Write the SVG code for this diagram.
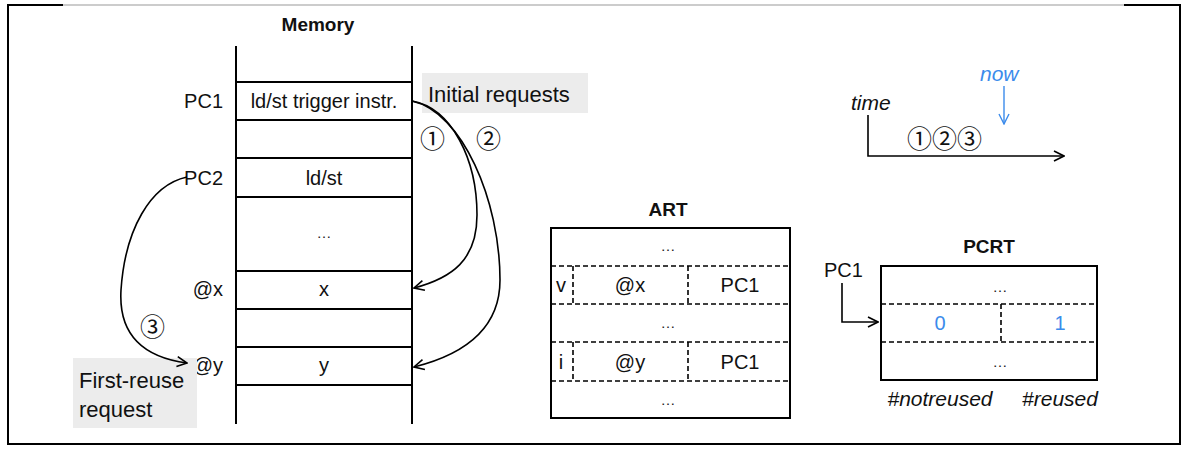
<svg xmlns="http://www.w3.org/2000/svg" width="1187" height="450" viewBox="0 0 1187 450">
<defs>
<marker id="open" viewBox="0 0 12 12" refX="11" refY="6" markerWidth="12" markerHeight="12" markerUnits="userSpaceOnUse" orient="auto">
<path d="M1,1 L11,6 L1,11" fill="none" stroke="#000" stroke-width="1.6"/>
</marker>
<marker id="openblue" viewBox="0 0 12 12" refX="11" refY="6" markerWidth="12" markerHeight="12" markerUnits="userSpaceOnUse" orient="auto">
<path d="M1,1 L11,6 L1,11" fill="none" stroke="#3b8beb" stroke-width="1.4"/>
</marker>
</defs>
<style>
text{font-family:"Liberation Sans","Noto Sans",sans-serif;fill:#111;}
.t{font-size:20px;}
.m{text-anchor:middle;}
.e{text-anchor:end;}
.b{font-weight:bold;font-size:19px;}
.i{font-style:italic;font-size:21px;}
.dots{font-size:15px;fill:#222;}
.circ{font-family:"Noto Sans CJK SC","DejaVu Sans",sans-serif;font-size:25px;}
.blue{fill:#3b8beb;}
.ln{stroke:#000;stroke-width:2;fill:none;}
.dash{stroke:#000;stroke-width:1.6;stroke-dasharray:5,3;fill:none;}
.conn{stroke:#000;stroke-width:1.6;fill:none;marker-end:url(#open);}
.hl{fill:#ececec;}
.big{font-size:22px;}
</style>
<rect width="1187" height="450" fill="#fff"/>
<g id="frame">
<line x1="7" y1="5" x2="63" y2="5" stroke="#000" stroke-width="2"/>
<line x1="63" y1="5" x2="1124" y2="5" stroke="#999" stroke-width="1"/>
<line x1="1124" y1="5" x2="1181" y2="5" stroke="#000" stroke-width="2"/>
<line x1="8" y1="4" x2="8" y2="444" stroke="#000" stroke-width="2"/>
<line x1="1180" y1="4" x2="1180" y2="444" stroke="#000" stroke-width="2"/>
<line x1="7" y1="444" x2="1181" y2="444" stroke="#000" stroke-width="2"/>
</g>
<g id="memory">
<text class="b m" x="318" y="31">Memory</text>
<line class="ln" x1="236" y1="46" x2="236" y2="424"/>
<line class="ln" x1="412" y1="46" x2="412" y2="424"/>
<line class="ln" x1="236" y1="82" x2="412" y2="82"/>
<line class="ln" x1="236" y1="120" x2="412" y2="120"/>
<line class="ln" x1="236" y1="158" x2="412" y2="158"/>
<line class="ln" x1="236" y1="197" x2="412" y2="197"/>
<line class="ln" x1="236" y1="271" x2="412" y2="271"/>
<line class="ln" x1="236" y1="309" x2="412" y2="309"/>
<line class="ln" x1="236" y1="347" x2="412" y2="347"/>
<line class="ln" x1="236" y1="385" x2="412" y2="385"/>
<text class="t m" x="324" y="108">ld/st trigger instr.</text>
<text class="t m" x="324" y="185">ld/st</text>
<text class="dots m" x="324" y="238">…</text>
<text class="t m" x="324" y="296">x</text>
<text class="t m" x="324" y="372">y</text>
<text class="t e" x="223" y="108">PC1</text>
<text class="t e" x="223" y="185">PC2</text>
<text class="t e" x="223" y="296">@x</text>
<text class="t e" x="223" y="372">@y</text>
</g>
<g id="initial-requests">
<rect class="hl" x="422" y="73" width="166" height="40"/>
<text class="big" x="428" y="102">Initial requests</text>
</g>
<g id="first-reuse">
<rect class="hl" x="73" y="358" width="124" height="70"/>
<text class="big" x="79" y="388">First-reuse</text>
<text class="big" x="79" y="417">request</text>
</g>
<g id="connectors">
<path class="conn" d="M412,101 C452,108 477,160 477,215 C477,260 452,278 414,288"/>
<path class="conn" d="M412,101 C462,112 500,200 500,280 C500,330 462,355 414,367"/>
<path class="conn" d="M187,177 C150,185 125,230 121,290 C118,340 150,358 187,363"/>
<text class="circ" x="420" y="148">①</text>
<text class="circ" x="476" y="148">②</text>
<text class="circ" x="140" y="336">③</text>
</g>
<g id="art">
<text class="b m" x="668" y="216">ART</text>
<rect class="ln" x="551" y="228" width="239" height="190"/>
<line class="dash" x1="551" y1="266" x2="790" y2="266"/>
<line class="dash" x1="551" y1="304" x2="790" y2="304"/>
<line class="dash" x1="551" y1="342" x2="790" y2="342"/>
<line class="dash" x1="551" y1="381" x2="790" y2="381"/>
<line class="dash" x1="573" y1="266" x2="573" y2="304"/>
<line class="dash" x1="688" y1="266" x2="688" y2="304"/>
<line class="dash" x1="573" y1="342" x2="573" y2="381"/>
<line class="dash" x1="688" y1="342" x2="688" y2="381"/>
<text class="dots m" x="668" y="251">…</text>
<text class="t m" x="561" y="292">v</text>
<text class="t m" x="630" y="292">@x</text>
<text class="t m" x="740" y="292">PC1</text>
<text class="dots m" x="668" y="328">…</text>
<text class="t m" x="561" y="369">i</text>
<text class="t m" x="630" y="369">@y</text>
<text class="t m" x="740" y="369">PC1</text>
<text class="dots m" x="668" y="405">…</text>
</g>
<g id="timeline">
<text class="i" x="851" y="110">time</text>
<path class="conn" d="M868,115 L868,156 L1064,156"/>
<text class="circ" x="907" y="148">①②③</text>
<text class="i blue" x="980" y="81">now</text>
<line x1="1004" y1="86" x2="1004" y2="124" stroke="#3b8beb" stroke-width="1.4" marker-end="url(#openblue)"/>
</g>
<g id="pcrt">
<text class="b m" x="989" y="253">PCRT</text>
<rect class="ln" x="881" y="266" width="216" height="114"/>
<line class="dash" x1="881" y1="304" x2="1097" y2="304"/>
<line class="dash" x1="881" y1="342" x2="1097" y2="342"/>
<line class="dash" x1="1001" y1="304" x2="1001" y2="342"/>
<text class="dots m" x="1000" y="292">…</text>
<text class="t m blue" x="940" y="330">0</text>
<text class="t m blue" x="1060" y="330">1</text>
<text class="dots m" x="1000" y="367">…</text>
<text class="i m" x="940" y="406">#notreused</text>
<text class="i m" x="1060" y="406">#reused</text>
<text class="t" x="824" y="277">PC1</text>
<path class="conn" d="M842,283 L842,322 L878,322"/>
</g>
</svg>
